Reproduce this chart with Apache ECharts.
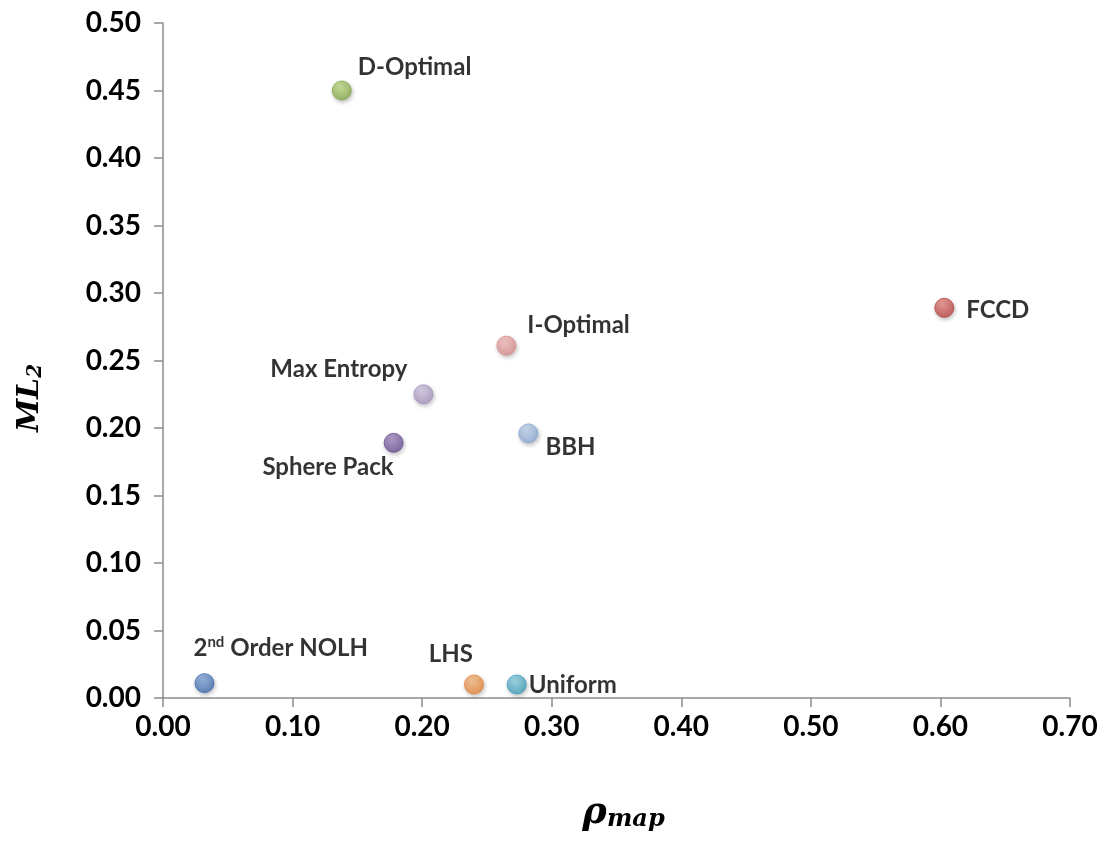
<!DOCTYPE html>
<html>
<head>
<meta charset="utf-8">
<script src="https://cdn.jsdelivr.net/npm/echarts@6/dist/echarts.min.js"></script>
<style>
  html, body { margin: 0; padding: 0; background: #fff; }
  #chart { width: 1106px; height: 846px; }
</style>
</head>
<body>
<div id="chart"></div>
<script>
// design names and their coordinates (rho_map, ML2)
const designs = ["D-Optimal", "FCCD", "I-Optimal", "Max Entropy", "Sphere Pack", "BBH", "2nd Order NOLH", "LHS", "Uniform"];
const rhoMap = [0.138, 0.603, 0.265, 0.201, 0.178, 0.282, 0.032, 0.240, 0.273];
const ml2 = [0.450, 0.289, 0.261, 0.225, 0.189, 0.196, 0.011, 0.010, 0.010];
const xTicks = [0, 0.1, 0.2, 0.3, 0.4, 0.5, 0.6, 0.7];
const yTicks = [0, 0.05, 0.1, 0.15, 0.2, 0.25, 0.3, 0.35, 0.4, 0.45, 0.5];

// marker colours (light, dark) per design
const colors = [
  ["#c3e08a", "#86a84a"],
  ["#ea8c8a", "#b8413e"],
  ["#f6c2c1", "#dc8d8b"],
  ["#d6cbe6", "#a493c0"],
  ["#a68ec6", "#6a4f92"],
  ["#c4d7f0", "#8aa9d6"],
  ["#86a9dc", "#3f6db0"],
  ["#fbbd86", "#e8843a"],
  ["#92d3e6", "#3c9fbd"]
];

// label placement: [offset x, offset y, align]
const labelPos = [
  [16, -23, "left"],
  [22, 2, "left"],
  [21, -20, "left"],
  [-16, -25, "right"],
  [0, 24, "right"],
  [17, 14, "left"],
  [-11, -35, "left"],
  [-1, -30, "right"],
  [12, 1, "left"]
];

const chart = echarts.init(document.getElementById("chart"));

const points = designs.map((name, i) => {
  const c = colors[i];
  const lp = labelPos[i];
  return {
    name: name,
    value: [rhoMap[i], ml2[i]],
    itemStyle: {
      color: new echarts.graphic.RadialGradient(0.4, 0.3, 0.75, [
        { offset: 0, color: c[0] },
        { offset: 1, color: c[1] }
      ]),
      borderColor: c[1],
      borderWidth: 1
    },
    label: {
      color: "#000",
      offset: [lp[0], lp[1]],
      align: lp[2]
    }
  };
});

const axisFont = {
  color: "#000",
  fontFamily: "Lato",
  fontWeight: "bold",
  fontSize: 28,
  formatter: v => v.toFixed(2)
};

chart.setOption({
  animation: false,
  grid: { left: 163, right: 36, top: 23, bottom: 148 },
  graphic: [
    {
      type: "text",
      x: 30,
      y: 398,
      rotation: Math.PI / 2,
      style: {
        text: "{m|ML}{s|2}",
        align: "center",
        verticalAlign: "middle",
        rich: {
          m: { fontFamily: "DejaVu Serif", fontStyle: "italic", fontWeight: "bold", fontSize: 30, fill: "#000", color: "#000" },
          s: { fontFamily: "DejaVu Serif", fontStyle: "italic", fontWeight: "bold", fontSize: 20, fill: "#000", color: "#000", padding: [12, 0, 0, 0] }
        }
      }
    }
  ],
  xAxis: {
    type: "value",
    min: 0,
    max: 0.7,
    interval: 0.1,
    splitLine: { show: false },
    axisLine: { show: true, lineStyle: { color: "#8c8c8c", width: 1.5 } },
    axisTick: { show: true, length: 9, lineStyle: { color: "#8c8c8c", width: 1.5 } },
    axisLabel: Object.assign({ margin: 15 }, axisFont),
    name: "{r|ρ}{s|map}",
    nameLocation: "middle",
    nameGap: 96,
    nameTextStyle: {
      padding: [0, 0, 0, 14],
      rich: {
        r: { fontFamily: "DejaVu Serif", fontStyle: "italic", fontWeight: "bold", fontSize: 37, color: "#000" },
        s: { fontFamily: "DejaVu Serif", fontStyle: "italic", fontWeight: "bold", fontSize: 24, color: "#000", padding: [14, 0, 0, 0] }
      }
    }
  },
  yAxis: {
    type: "value",
    min: 0,
    max: 0.5,
    interval: 0.05,
    splitLine: { show: false },
    axisLine: { show: true, lineStyle: { color: "#8c8c8c", width: 1.5 } },
    axisTick: { show: true, length: 9, lineStyle: { color: "#8c8c8c", width: 1.5 } },
    axisLabel: Object.assign({ margin: 22 }, axisFont)
  },
  series: [
    {
      type: "scatter",
      symbol: "circle",
      symbolSize: 19,
      itemStyle: {
        shadowBlur: 4,
        shadowOffsetX: 1,
        shadowOffsetY: 2,
        shadowColor: "rgba(0,0,0,0.3)"
      },
      label: {
        show: true,
        position: "inside",
        color: "#000",
        textBorderWidth: 0,
        fontFamily: "Lato",
        fontWeight: "bold",
        fontSize: 24,
        formatter: p => p.name === "2nd Order NOLH" ? "2{sup|nd} Order NOLH" : p.name,
        rich: {
          sup: { fontFamily: "Lato", fontWeight: "bold", fontSize: 15, color: "#000", padding: [0, 0, 12, 0] }
        }
      },
      data: points
    }
  ]
});
</script>
</body>
</html>
